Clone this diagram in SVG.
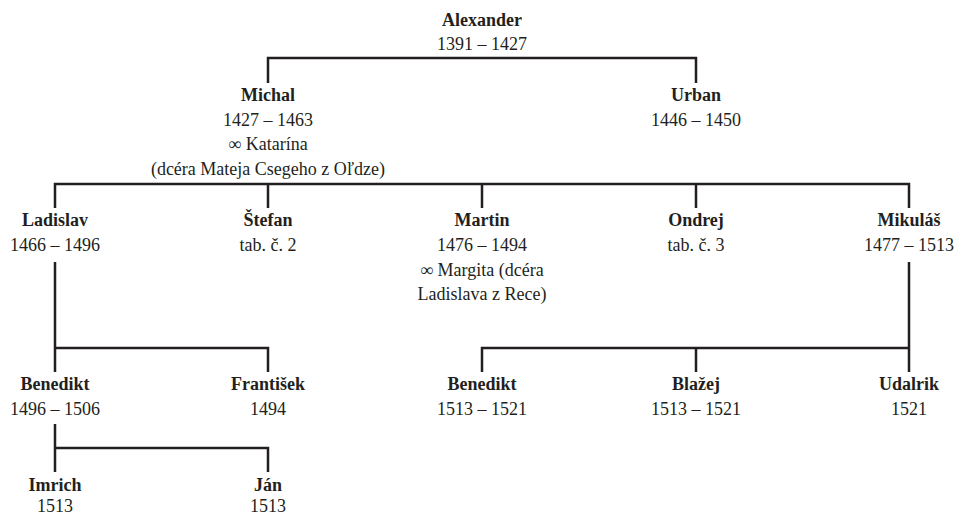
<svg xmlns="http://www.w3.org/2000/svg" width="958" height="517" viewBox="0 0 958 517">
<style>
text{font-family:"Liberation Serif","Times New Roman",serif;font-size:18px;fill:#231f20;text-anchor:middle}
.n{font-weight:bold}
.c{fill:none;stroke:#231f20;stroke-width:2.5;stroke-linecap:butt;stroke-linejoin:miter}
</style>
<rect width="958" height="517" fill="#fff"/>
<g id="connectors" class="c">
<path d="M268,83 V58 H696 V83"/>
<path d="M55,208 V184 H909 V208 M268,184 V208 M482,184 V208 M696,184 V208"/>
<path d="M55,262 V372 M55,348 H268 V372"/>
<path d="M909,262 V372 M909,348 H482 V372 M696,348 V372"/>
<path d="M55,424 V472 M55,448 H268 V472"/>
</g>
<g id="alexander"><text class="n" x="482" y="26">Alexander</text><text x="482" y="50">1391 – 1427</text></g>
<g id="michal"><text class="n" x="268" y="101">Michal</text><text x="268" y="125.5">1427 – 1463</text><text x="268" y="150">∞ Katarína</text><text x="268" y="175">(dcéra Mateja Csegeho z Oľdze)</text></g>
<g id="urban"><text class="n" x="696" y="101">Urban</text><text x="696" y="125.5">1446 – 1450</text></g>
<g id="ladislav"><text class="n" x="55" y="226">Ladislav</text><text x="55" y="251">1466 – 1496</text></g>
<g id="stefan"><text class="n" x="268" y="226">Štefan</text><text x="268" y="251">tab. č. 2</text></g>
<g id="martin"><text class="n" x="482" y="226">Martin</text><text x="482" y="251">1476 – 1494</text><text x="482" y="275.5">∞ Margita (dcéra</text><text x="482" y="300">Ladislava z Rece)</text></g>
<g id="ondrej"><text class="n" x="696" y="226">Ondrej</text><text x="696" y="251">tab. č. 3</text></g>
<g id="mikulas"><text class="n" x="909" y="226">Mikuláš</text><text x="909" y="251">1477 – 1513</text></g>
<g id="benedikt1"><text class="n" x="55" y="390">Benedikt</text><text x="55" y="414.5">1496 – 1506</text></g>
<g id="frantisek"><text class="n" x="268" y="390">František</text><text x="268" y="414.5">1494</text></g>
<g id="benedikt2"><text class="n" x="482" y="390">Benedikt</text><text x="482" y="414.5">1513 – 1521</text></g>
<g id="blazej"><text class="n" x="696" y="390">Blažej</text><text x="696" y="414.5">1513 – 1521</text></g>
<g id="udalrik"><text class="n" x="909" y="390">Udalrik</text><text x="909" y="414.5">1521</text></g>
<g id="imrich"><text class="n" x="55" y="491">Imrich</text><text x="55" y="512">1513</text></g>
<g id="jan"><text class="n" x="268" y="491">Ján</text><text x="268" y="512">1513</text></g>
</svg>
